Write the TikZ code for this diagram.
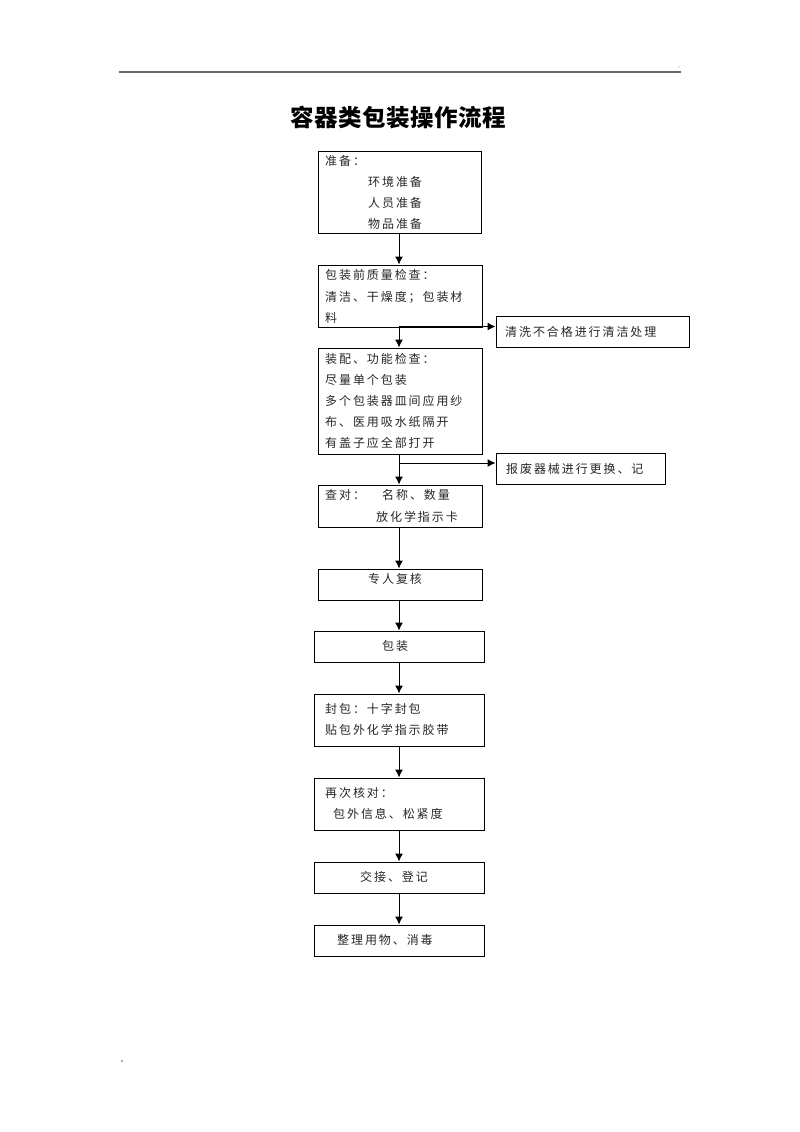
\documentclass[tikz,border=0pt]{standalone}
\usepackage{fontspec}
\newfontfamily\cjk{Noto Sans CJK SC}[LetterSpace=16]
\newfontfamily\cjkt{Noto Sans CJK SC}[LetterSpace=2]
\usetikzlibrary{arrows.meta}
\begin{document}
\begin{tikzpicture}[x=1pt,y=-1pt,
  box/.style={draw=black, line width=1pt, inner sep=0pt},
  txt/.style={inner sep=0pt, anchor=west, font=\cjk\fontsize{12}{12}\selectfont, text=black!85},
  arr/.style={draw=black, line width=1pt, -{Latex[length=8pt,width=8pt]}}]
\useasboundingbox (0,0) rectangle (800,1132);
% header
\draw[black!60, line width=1.3pt] (119,72) -- (681,72);
\fill[black!50] (679,67) circle (0.7);
\fill[black!70] (122,1061) circle (0.8);
\node[inner sep=0pt, font=\cjkt\bfseries\fontsize{23.5}{23.5}\selectfont] (title) at (398.5,118) {容器类包装操作流程};
% boxes
\node[box, minimum width=163pt, minimum height=82pt] (b1) at (399.5,192) {};
\node[box, minimum width=164pt, minimum height=62pt] (b2) at (400,296) {};
\node[box, minimum width=193pt, minimum height=31pt] (s1) at (592.5,332) {};
\node[box, minimum width=164pt, minimum height=106pt] (b3) at (400,401) {};
\node[box, minimum width=169pt, minimum height=31pt] (s2) at (580.5,468.5) {};
\node[box, minimum width=164pt, minimum height=42pt] (b4) at (400,506) {};
\node[box, minimum width=164pt, minimum height=31pt] (b5) at (400,584.5) {};
\node[box, minimum width=170pt, minimum height=31pt] (b6) at (399,646.5) {};
\node[box, minimum width=170pt, minimum height=52pt] (b7) at (399,720) {};
\node[box, minimum width=170pt, minimum height=52pt] (b8) at (399,804) {};
\node[box, minimum width=170pt, minimum height=31pt] (b9) at (399,877.5) {};
\node[box, minimum width=170pt, minimum height=31pt] (b10) at (399,940.5) {};
% texts
\node[txt] (t1a) at (325,161) {准备：};
\node[txt] (t1b) at (368,182) {环境准备};
\node[txt] (t1c) at (368,203) {人员准备};
\node[txt] (t1d) at (368,224) {物品准备};
\node[txt] (t2a) at (325,275) {包装前质量检查：};
\node[txt] (t2b) at (325,297) {清洁、干燥度；包装材};
\node[txt] (t2c) at (325,318) {料};
\node[txt] (ts1) at (505,332) {清洗不合格进行清洁处理};
\node[txt] (t3a) at (325,359) {装配、功能检查：};
\node[txt] (t3b) at (325,380) {尽量单个包装};
\node[txt] (t3c) at (325,401) {多个包装器皿间应用纱};
\node[txt] (t3d) at (325,422) {布、医用吸水纸隔开};
\node[txt] (t3e) at (325,443) {有盖子应全部打开};
\node[txt] (ts2) at (506,469) {报废器械进行更换、记};
\node[txt] (t4a) at (325,495) {查对：};
\node[txt] (t4b) at (382,495) {名称、数量};
\node[txt] (t4c) at (376,517) {放化学指示卡};
\node[txt] (t5) at (368,579) {专人复核};
\node[txt] (t6) at (382,646) {包装};
\node[txt] (t7a) at (325,709) {封包：十字封包};
\node[txt] (t7b) at (325,730) {贴包外化学指示胶带};
\node[txt] (t8a) at (325,793) {再次核对：};
\node[txt] (t8b) at (333,814) {包外信息、松紧度};
\node[txt] (t9) at (360,877) {交接、登记};
\node[txt] (t10) at (337,940) {整理用物、消毒};
% connectors
\coordinate (j1) at (399,326.5);
\coordinate (j2) at (399,463);
\draw[arr] (b1.south -| j1) -- (b2.north -| j1);
\draw[arr] (b2.south -| j1) -- (b3.north -| j1);
\draw[arr] (j1) -- (j1 -| s1.west);
\draw[arr] (b3.south -| j1) -- (b4.north -| j1);
\draw[arr] (j2) -- (j2 -| s2.west);
\draw[arr] (b4.south -| j1) -- (b5.north -| j1);
\draw[arr] (b5.south -| j1) -- (b6.north -| j1);
\draw[arr] (b6.south -| j1) -- (b7.north -| j1);
\draw[arr] (b7.south -| j1) -- (b8.north -| j1);
\draw[arr] (b8.south -| j1) -- (b9.north -| j1);
\draw[arr] (b9.south -| j1) -- (b10.north -| j1);
\end{tikzpicture}
\end{document}
